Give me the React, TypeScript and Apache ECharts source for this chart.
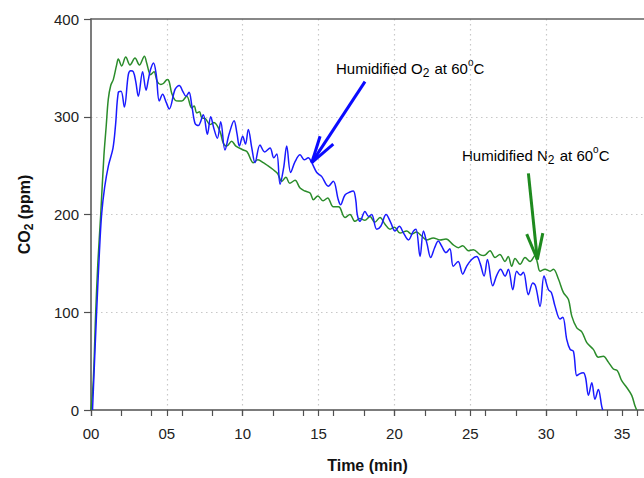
import React, { useEffect, useRef } from "react";
import * as echarts from "echarts";

// Time (min), CO2 (ppm) — humidified O2 at 60°C (blue)
const blueT = [0.1,0.37,0.55,0.7,0.9,1.15,1.45,1.62,1.8,1.98,2.2,2.46,2.62,2.79,2.95,3.12,3.4,3.63,3.78,3.92,4.12,4.3,4.5,4.72,4.95,5.16,5.54,5.82,6.05,6.26,6.46,6.64,6.86,7.07,7.4,7.67,7.89,8.1,8.33,8.55,8.83,9.1,9.43,9.62,9.78,10.0,10.18,10.37,10.6,10.81,11.14,11.45,11.8,12.05,12.25,12.46,12.7,12.9,13.16,13.45,13.78,14.06,14.32,14.55,14.88,15.2,15.64,15.97,16.3,16.45,16.74,17.07,17.29,17.45,17.55,17.73,18.06,18.3,18.5,18.83,19.1,19.45,19.75,20.04,20.32,20.6,20.92,21.25,21.42,21.69,21.91,22.15,22.39,22.65,22.89,23.1,23.4,23.65,23.88,24.2,24.5,24.76,25.09,25.42,25.65,25.91,26.13,26.48,26.75,27.0,27.29,27.51,27.8,28.06,28.3,28.5,28.83,29.12,29.3,29.6,29.86,30.15,30.35,30.59,30.92,31.1,31.36,31.58,31.8,32.02,32.2,32.45,32.6,32.79,33.01,33.22,33.44,33.66,33.73];
const blueV = [0,100,160,200,228,250,268,292,325,326,310,343,347,346,336,321,346,327,338,348,355,343,316,323,315,308,328,332,326,321,325,312,293,291,302,282,300,288,278,295,266,282,296,283,270,280,272,287,268,253,271,264,268,258,262,231,248,270,243,254,261,256,258,253,243,239,229,234,215,210,220,223,224,215,200,193,203,198,200,185,188,200,192,183,188,181,174,183,185,157,183,170,156,166,173,168,161,165,147,152,139,147,154,157,150,137,154,127,138,144,137,144,123,142,138,141,118,130,127,106,137,123,120,106,93,95,72,62,60,35,37,38,33,15,28,11,21,4,0];

// Humidified N2 at 60°C (green)
const greenT = [0,0.15,0.31,0.45,0.64,0.85,1.0,1.14,1.3,1.47,1.69,1.8,2.02,2.29,2.57,2.9,3.19,3.52,3.67,3.93,4.15,4.37,4.6,4.77,5.03,5.15,5.32,5.54,5.76,5.98,6.31,6.64,6.8,6.97,7.15,7.3,7.55,7.84,8.1,8.5,8.72,8.95,9.27,9.55,10.04,10.3,10.7,11.0,11.36,11.65,12.0,12.3,12.57,12.85,13.1,13.45,13.78,14.1,14.44,14.66,14.95,15.3,15.6,15.97,16.3,16.41,16.74,17.07,17.4,17.73,18.05,18.39,18.7,19.05,19.38,19.71,20.0,20.37,20.81,21.13,21.45,21.8,22.12,22.56,23.0,23.4,23.88,24.21,24.5,24.87,25.2,25.64,25.9,26.3,26.63,26.95,27.29,27.5,27.73,27.95,28.28,28.61,28.94,29.27,29.42,29.6,29.93,30.26,30.48,30.81,31.14,31.47,31.69,32.02,32.35,32.68,33.11,33.44,33.77,34.1,34.43,34.7,34.98,35.31,35.64,35.86,35.97];
const greenV = [0,30,100,150,200,260,290,318,332,338,353,359,352,361,353,360,353,362,355,343,346,336,333,334,338,336,324,317,316,316,321,309,311,304,305,299,298,292,294,285,273,270,275,270,266,264,253,256,253,250,246,242,234,238,232,235,227,224,222,215,219,214,217,208,208,207,197,200,193,196,194,198,192,197,190,185,187,181,183,180,182,178,174,176,174,175,169,166,168,163,164,159,158,163,156,159,152,157,147,155,149,156,152,158,151,142,144,142,144,134,120,113,96,84,80,69,62,54,55,49,42,40,30,23,15,4,0];

const labelTicks = [0, 5, 10, 15, 20, 25, 30, 35];
const minorTicks = [0, 2, 4, 6, 8, 10, 12, 14, 16, 18, 20, 22, 24, 26, 28, 30, 32, 34, 36];
const yTicks = [0, 100, 200, 300, 400];

// Arrow annotations in data coordinates: [tail, tip, arm1, arm2]
const blueArrow = { tail: [18.06, 336], tip: [14.55, 253], arm1: [15.1, 280], arm2: [15.97, 272] };
const greenArrow = { tail: [28.83, 242], tip: [29.42, 154], arm1: [28.72, 180], arm2: [29.78, 181] };

const FONT = 'Arial, "Liberation Sans", Helvetica, sans-serif';
const BLUE = "#1a1aff";
const GREEN = "#2b8c2b";

function zip(t: number[], v: number[]) {
  return t.map((x, i) => [x, v[i]]);
}

function arrowLines(a: { tail: number[]; tip: number[]; arm1: number[]; arm2: number[] }) {
  return [
    [{ coord: a.tail }, { coord: a.tip }],
    [{ coord: a.arm1 }, { coord: a.tip }],
    [{ coord: a.arm2 }, { coord: a.tip }],
  ];
}

export default function App() {
  const ref = useRef<HTMLDivElement>(null);
  useEffect(() => {
    if (!ref.current) return;
    const chart = echarts.init(ref.current, undefined, { renderer: "svg" });
    const axisColor = "#505050";
    const richText = {
      a: { fontSize: 15, fontFamily: FONT, color: "#222", lineHeight: 22, verticalAlign: "middle" },
      s: { fontSize: 12, fontFamily: FONT, color: "#222", lineHeight: 22, verticalAlign: "bottom", padding: [0, 1, 0, 0] },
      o: { fontSize: 10, fontFamily: FONT, color: "#222", lineHeight: 22, verticalAlign: "top" },
    };
    chart.setOption({
      animation: false,
      backgroundColor: "#fff",
      grid: { left: 91, right: 0, top: 19, bottom: 67, containLabel: false },
      xAxis: [
        {
          type: "value",
          min: 0,
          max: 36.45,
          interval: 5,
          position: "bottom",
          name: "Time (min)",
          nameLocation: "middle",
          nameGap: 47,
          nameTextStyle: { fontFamily: FONT, fontSize: 16, fontWeight: "bold", color: "#111" },
          axisLine: { show: true, lineStyle: { color: axisColor, width: 1.5 } },
          axisTick: { show: true, length: 6, inside: false, customValues: labelTicks, lineStyle: { color: axisColor, width: 1.2 } },
          axisLabel: {
            customValues: labelTicks,
            margin: 16,
            fontFamily: FONT,
            fontSize: 15,
            color: "#222",
            formatter: (v: number) => String(Math.round(v)).padStart(2, "0"),
          },
          splitLine: { show: true, showMinLine: false, showMaxLine: false, lineStyle: { color: "#c8c8c8", type: [1.5, 3.5], width: 1.2 } },
        },
        {
          type: "value",
          min: 0,
          max: 36.45,
          position: "bottom",
          offset: 0,
          axisLine: { show: false },
          axisTick: { show: true, length: 6, customValues: minorTicks, lineStyle: { color: axisColor, width: 1.2 } },
          axisLabel: { show: false },
          splitLine: { show: false },
        },
        {
          type: "value",
          min: 0,
          max: 36.45,
          position: "top",
          axisLine: { show: true, lineStyle: { color: "#606060", width: 1.5 } },
          axisTick: { show: false },
          axisLabel: { show: false },
          splitLine: { show: false },
        },
      ],
      yAxis: {
        type: "value",
        min: 0,
        max: 400,
        interval: 100,
        name: "{b|CO}{s|2}{b| (ppm)}",
        nameLocation: "middle",
        nameGap: 56,
        nameRotate: 90,
        nameTextStyle: {
          rich: {
            b: { fontFamily: FONT, fontSize: 16, fontWeight: "bold", color: "#111", lineHeight: 22, verticalAlign: "middle" },
            s: { fontFamily: FONT, fontSize: 12, fontWeight: "bold", color: "#111", lineHeight: 22, verticalAlign: "bottom" },
          },
        },
        axisLine: { show: true, lineStyle: { color: axisColor, width: 1.5 } },
        axisTick: { show: true, length: 7, customValues: yTicks, lineStyle: { color: axisColor, width: 1.2 } },
        axisLabel: { margin: 12, fontFamily: FONT, fontSize: 15, color: "#222" },
        splitLine: { show: true, showMinLine: false, showMaxLine: false, lineStyle: { color: "#c8c8c8", type: [1.5, 3.5], width: 1.2 } },
      },
      series: [
        {
          type: "line",
          name: "Humidified N2",
          data: zip(greenT, greenV),
          showSymbol: false,
          smooth: 0.35,
          lineStyle: { color: GREEN, width: 1.5 },
          z: 3,
          markLine: {
            silent: true,
            symbol: "none",
            label: { show: false },
            lineStyle: { color: "#1e8a1e", width: 3, type: "solid" },
            data: arrowLines(greenArrow),
          },
        },
        {
          type: "line",
          name: "Humidified O2",
          data: zip(blueT, blueV),
          showSymbol: false,
          smooth: 0.35,
          lineStyle: { color: BLUE, width: 1.5 },
          z: 4,
          markLine: {
            silent: true,
            symbol: "none",
            label: { show: false },
            lineStyle: { color: "#0a0aff", width: 3, type: "solid" },
            data: arrowLines(blueArrow),
          },
        },
      ],
      graphic: [
        {
          type: "text",
          left: 336,
          top: 57,
          style: { text: "{a|Humidified O}{s|2}{a| at 60}{o|o}{a|C}", rich: richText },
        },
        {
          type: "text",
          left: 462,
          top: 144,
          style: { text: "{a|Humidified N}{s|2}{a| at 60}{o|o}{a|C}", rich: richText },
        },
      ],
    });
    return () => chart.dispose();
  }, []);
  return (
    <div
      ref={ref}
      style={{ position: "absolute", left: 0, top: 0, width: 644, height: 478, background: "#fff" }}
    />
  );
}
